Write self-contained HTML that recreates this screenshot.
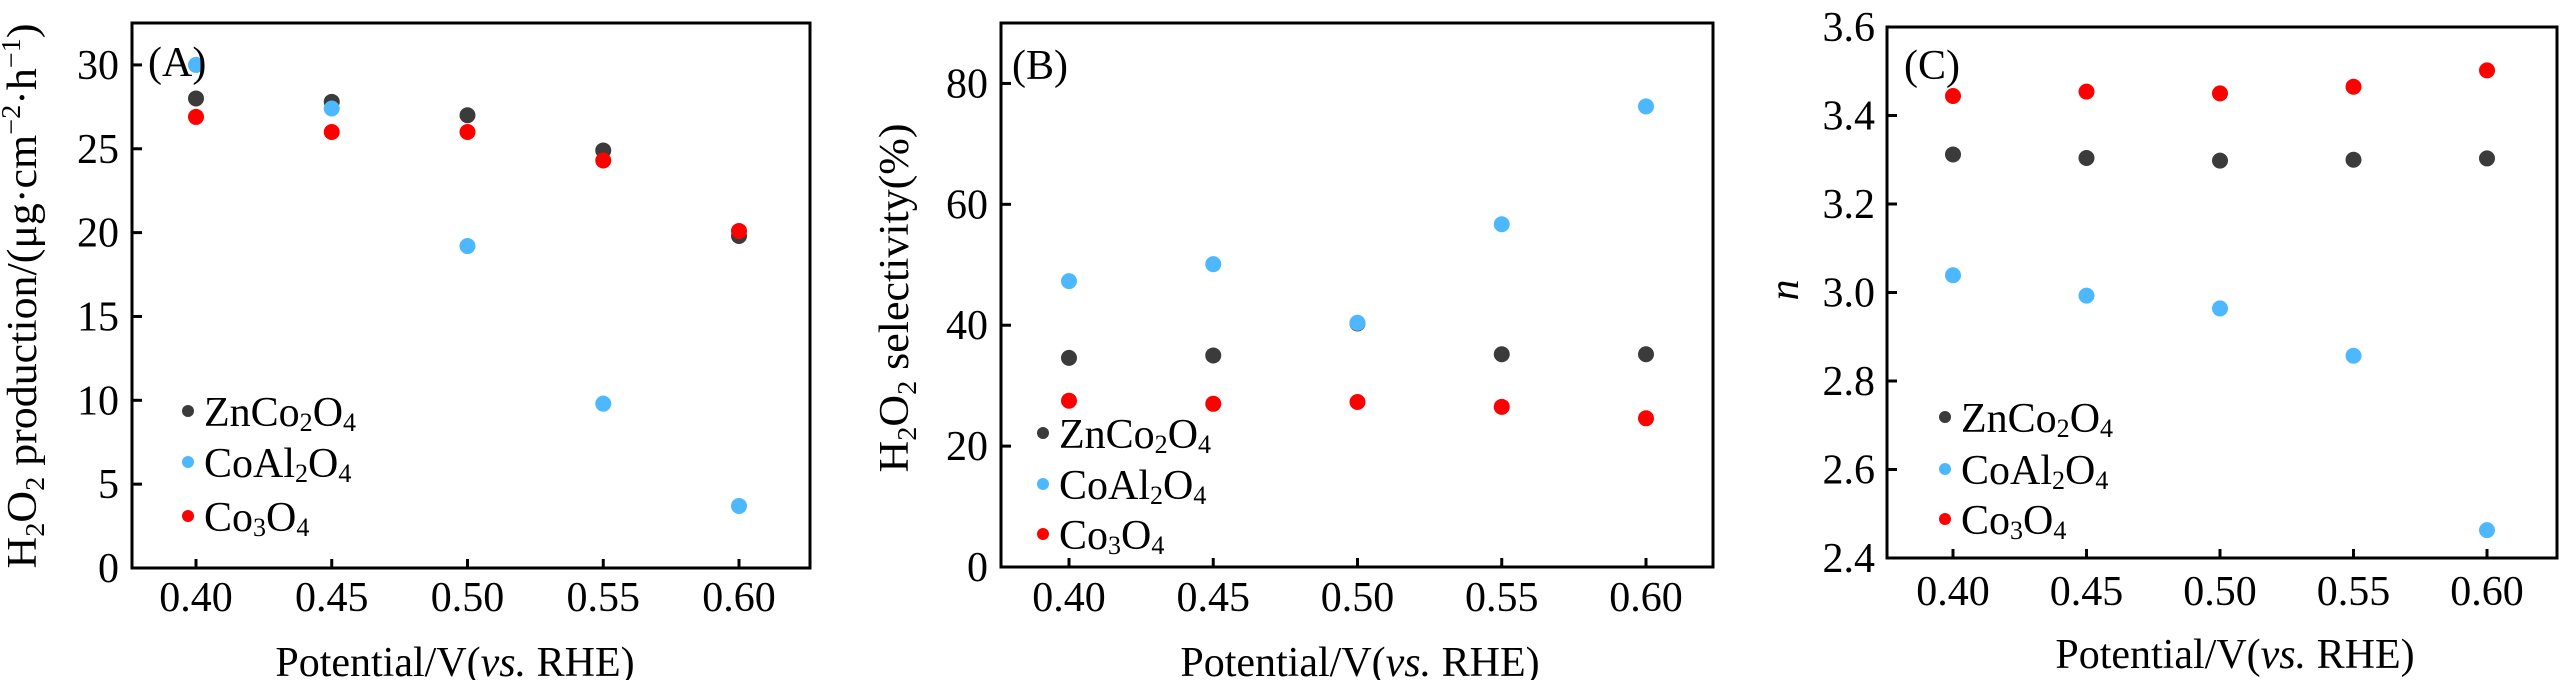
<!DOCTYPE html>
<html><head><meta charset="utf-8"><style>
html,body{margin:0;padding:0;background:#fff;}
svg, svg text, svg tspan{font-family:"Liberation Serif","Times New Roman",serif;}
</style></head><body>
<svg id="fig" width="2567" height="680" viewBox="0 0 2567 680" xmlns="http://www.w3.org/2000/svg" font-family="Liberation Serif, serif"></svg>
<script>
const potentials = [0.40, 0.45, 0.50, 0.55, 0.60];
const xTickLabels = ["0.40", "0.45", "0.50", "0.55", "0.60"];
const seriesNames = ["ZnCo2O4", "CoAl2O4", "Co3O4"];
const seriesColors = ["#3b3b3b", "#4db8ff", "#ff0000"];
// Panel A: H2O2 production
const prodZnCo2O4 = [28.0, 27.8, 27.0, 24.9, 19.8];
const prodCoAl2O4 = [30.0, 27.4, 19.2, 9.8, 3.7];
const prodCo3O4 = [26.9, 26.0, 26.0, 24.3, 20.1];
const prodTicks = [0, 5, 10, 15, 20, 25, 30];
// Panel B: selectivity
const selZnCo2O4 = [34.6, 35.0, 40.3, 35.2, 35.2];
const selCoAl2O4 = [47.3, 50.1, 40.4, 56.7, 76.2];
const selCo3O4 = [27.5, 27.0, 27.3, 26.5, 24.6];
const selTicks = [0, 20, 40, 60, 80];
// Panel C: electron transfer number
const nZnCo2O4 = [3.312, 3.304, 3.298, 3.300, 3.303];
const nCoAl2O4 = [3.039, 2.993, 2.964, 2.857, 2.463];
const nCo3O4 = [3.444, 3.454, 3.450, 3.465, 3.502];
const nTicks = [2.4, 2.6, 2.8, 3.0, 3.2, 3.4, 3.6];
const nTickLabels = ["2.4", "2.6", "2.8", "3.0", "3.2", "3.4", "3.6"];

const NS = "http://www.w3.org/2000/svg";
const FONT = "Liberation Serif, serif";
const svg = document.getElementById("fig");
function mk(tag, attrs, parent) {
  const e = document.createElementNS(NS, tag);
  for (const k in attrs) e.setAttribute(k, attrs[k]);
  if (tag === "text") e.setAttribute("font-family", FONT);
  (parent || svg).appendChild(e);
  return e;
}
function chemText(parent, x, y, formula, size) {
  const t = mk("text", {x: x, y: y, "font-size": size, fill: "#000"}, parent);
  const parts = formula.match(/[A-Za-z]+|\d+/g);
  let shifted = false;
  parts.forEach(p => {
    const s = mk("tspan", {}, t);
    const isNum = /^\d+$/.test(p);
    if (isNum) { s.setAttribute("font-size", size * 0.62); }
    if (isNum && !shifted) { s.setAttribute("dy", size * 0.12); shifted = true; }
    else if (!isNum && shifted) { s.setAttribute("dy", -size * 0.12); shifted = false; }
    s.textContent = p;
  });
  return t;
}

function panel(cfg) {
  const g = mk("g", {});
  
  
  const xs = v => cfg.x0 + (v - 0.40) / 0.20 * (cfg.x1 - cfg.x0);
  const ys = v => cfg.yb - (v - cfg.ymin) / (cfg.ymax - cfg.ymin) * (cfg.yb - cfg.yt);
  const frame = mk("rect", {x: cfg.L, y: cfg.yt, width: cfg.R - cfg.L, height: cfg.yb - cfg.yt, fill: "none", stroke: "#000", "stroke-width": 3}, g);
  
  
  potentials.forEach((p, i) => {
    const tk = mk("line", {x1: xs(p), x2: xs(p), y1: cfg.yb, y2: cfg.yb - 9, stroke: "#000", "stroke-width": 3}, g);
    
    
    const lb = mk("text", {x: xs(p), y: cfg.xLabelY, "font-size": 42, "text-anchor": "middle"}, g);
    
    
    lb.textContent = xTickLabels[i];
  });
  cfg.yticks.forEach((v, i) => {
    const tk = mk("line", {x1: cfg.L, x2: cfg.L + 10, y1: ys(v), y2: ys(v), stroke: "#000", "stroke-width": 3}, g);
    
    
    const lb = mk("text", {x: cfg.yLabelX, y: ys(v) + 14, "font-size": 42, "text-anchor": "end"}, g);
    
    
    lb.textContent = cfg.ytickLabels[i];
  });
  cfg.series.forEach((vals, si) => {
    vals.forEach((v, i) => {
      const c = mk("circle", {cx: xs(potentials[i]), cy: ys(v), r: 8, fill: seriesColors[si]}, g);
      
      
    });
  });
  const pl = mk("text", {x: cfg.tagX, y: cfg.tagY, "font-size": 42}, g);
  
  
  pl.textContent = cfg.tag;
  seriesNames.forEach((nm, si) => {
    const lg = mk("g", {}, g);
    
    
    mk("circle", {cx: cfg.legX, cy: cfg.legY[si], r: 6, fill: seriesColors[si]}, lg);
    chemText(lg, cfg.legX + 16, cfg.legY[si] + 15, nm, 42);
  });
  const xt = mk("text", {x: cfg.xTitleX, y: cfg.xTitleY, "font-size": 42, "text-anchor": "middle"}, g);
  
  
  xt.innerHTML = 'Potential/V(<tspan font-style="italic">vs.</tspan> RHE)';
  const yt = mk("text", {x: 0, y: 0, "font-size": 42, "text-anchor": "middle", transform: `translate(${cfg.yTitleX},${cfg.yTitleY}) rotate(-90)`}, g);
  
  
  if (cfg.yTitleLen) { yt.setAttribute("textLength", cfg.yTitleLen); yt.setAttribute("lengthAdjust", "spacingAndGlyphs"); }
  yt.innerHTML = cfg.yTitle;
}

panel({name: "panel-a-production", L: 132, R: 810, yt: 23, yb: 568, x0: 196, x1: 739,
  ymin: 0, ymax: 32.5, yticks: prodTicks, ytickLabels: prodTicks.map(String),
  yLabelX: 119, xLabelY: 611, series: [prodZnCo2O4, prodCoAl2O4, prodCo3O4],
  tag: "(A)", tagX: 148, tagY: 76, legX: 188, legY: [411, 462, 516],
  xTitleX: 455, xTitleY: 676, yTitleX: 36, yTitleY: 296, yTitleLen: 545,
  yTitle: 'H<tspan font-size="27" dy="8">2</tspan><tspan dy="-8">O</tspan><tspan font-size="27" dy="8">2</tspan><tspan dy="-8"> production/(μg·cm</tspan><tspan font-size="27" dy="-16">−2</tspan><tspan dy="16">·h</tspan><tspan font-size="27" dy="-16">−1</tspan><tspan dy="16">)</tspan>'});

panel({name: "panel-b-selectivity", L: 1001, R: 1713, yt: 23, yb: 567, x0: 1069, x1: 1646,
  ymin: 0, ymax: 90, yticks: selTicks, ytickLabels: selTicks.map(String),
  yLabelX: 988, xLabelY: 611, series: [selZnCo2O4, selCoAl2O4, selCo3O4],
  tag: "(B)", tagX: 1012, tagY: 79, legX: 1043, legY: [433, 484, 534],
  xTitleX: 1360, xTitleY: 676, yTitleX: 908, yTitleY: 298, yTitleLen: 349,
  yTitle: 'H<tspan font-size="27" dy="8">2</tspan><tspan dy="-8">O</tspan><tspan font-size="27" dy="8">2</tspan><tspan dy="-8"> selectivity(%)</tspan>'});

panel({name: "panel-c-electron-number", L: 1887, R: 2557, yt: 27, yb: 558, x0: 1953, x1: 2487,
  ymin: 2.4, ymax: 3.6, yticks: nTicks, ytickLabels: nTickLabels,
  yLabelX: 1875, xLabelY: 605, series: [nZnCo2O4, nCoAl2O4, nCo3O4],
  tag: "(C)", tagX: 1904, tagY: 79, legX: 1945, legY: [417, 469, 519],
  xTitleX: 2235, xTitleY: 668, yTitleX: 1798, yTitleY: 290, yTitleLen: 0,
  yTitle: '<tspan font-style="italic">n</tspan>'});
</script>
</body></html>
